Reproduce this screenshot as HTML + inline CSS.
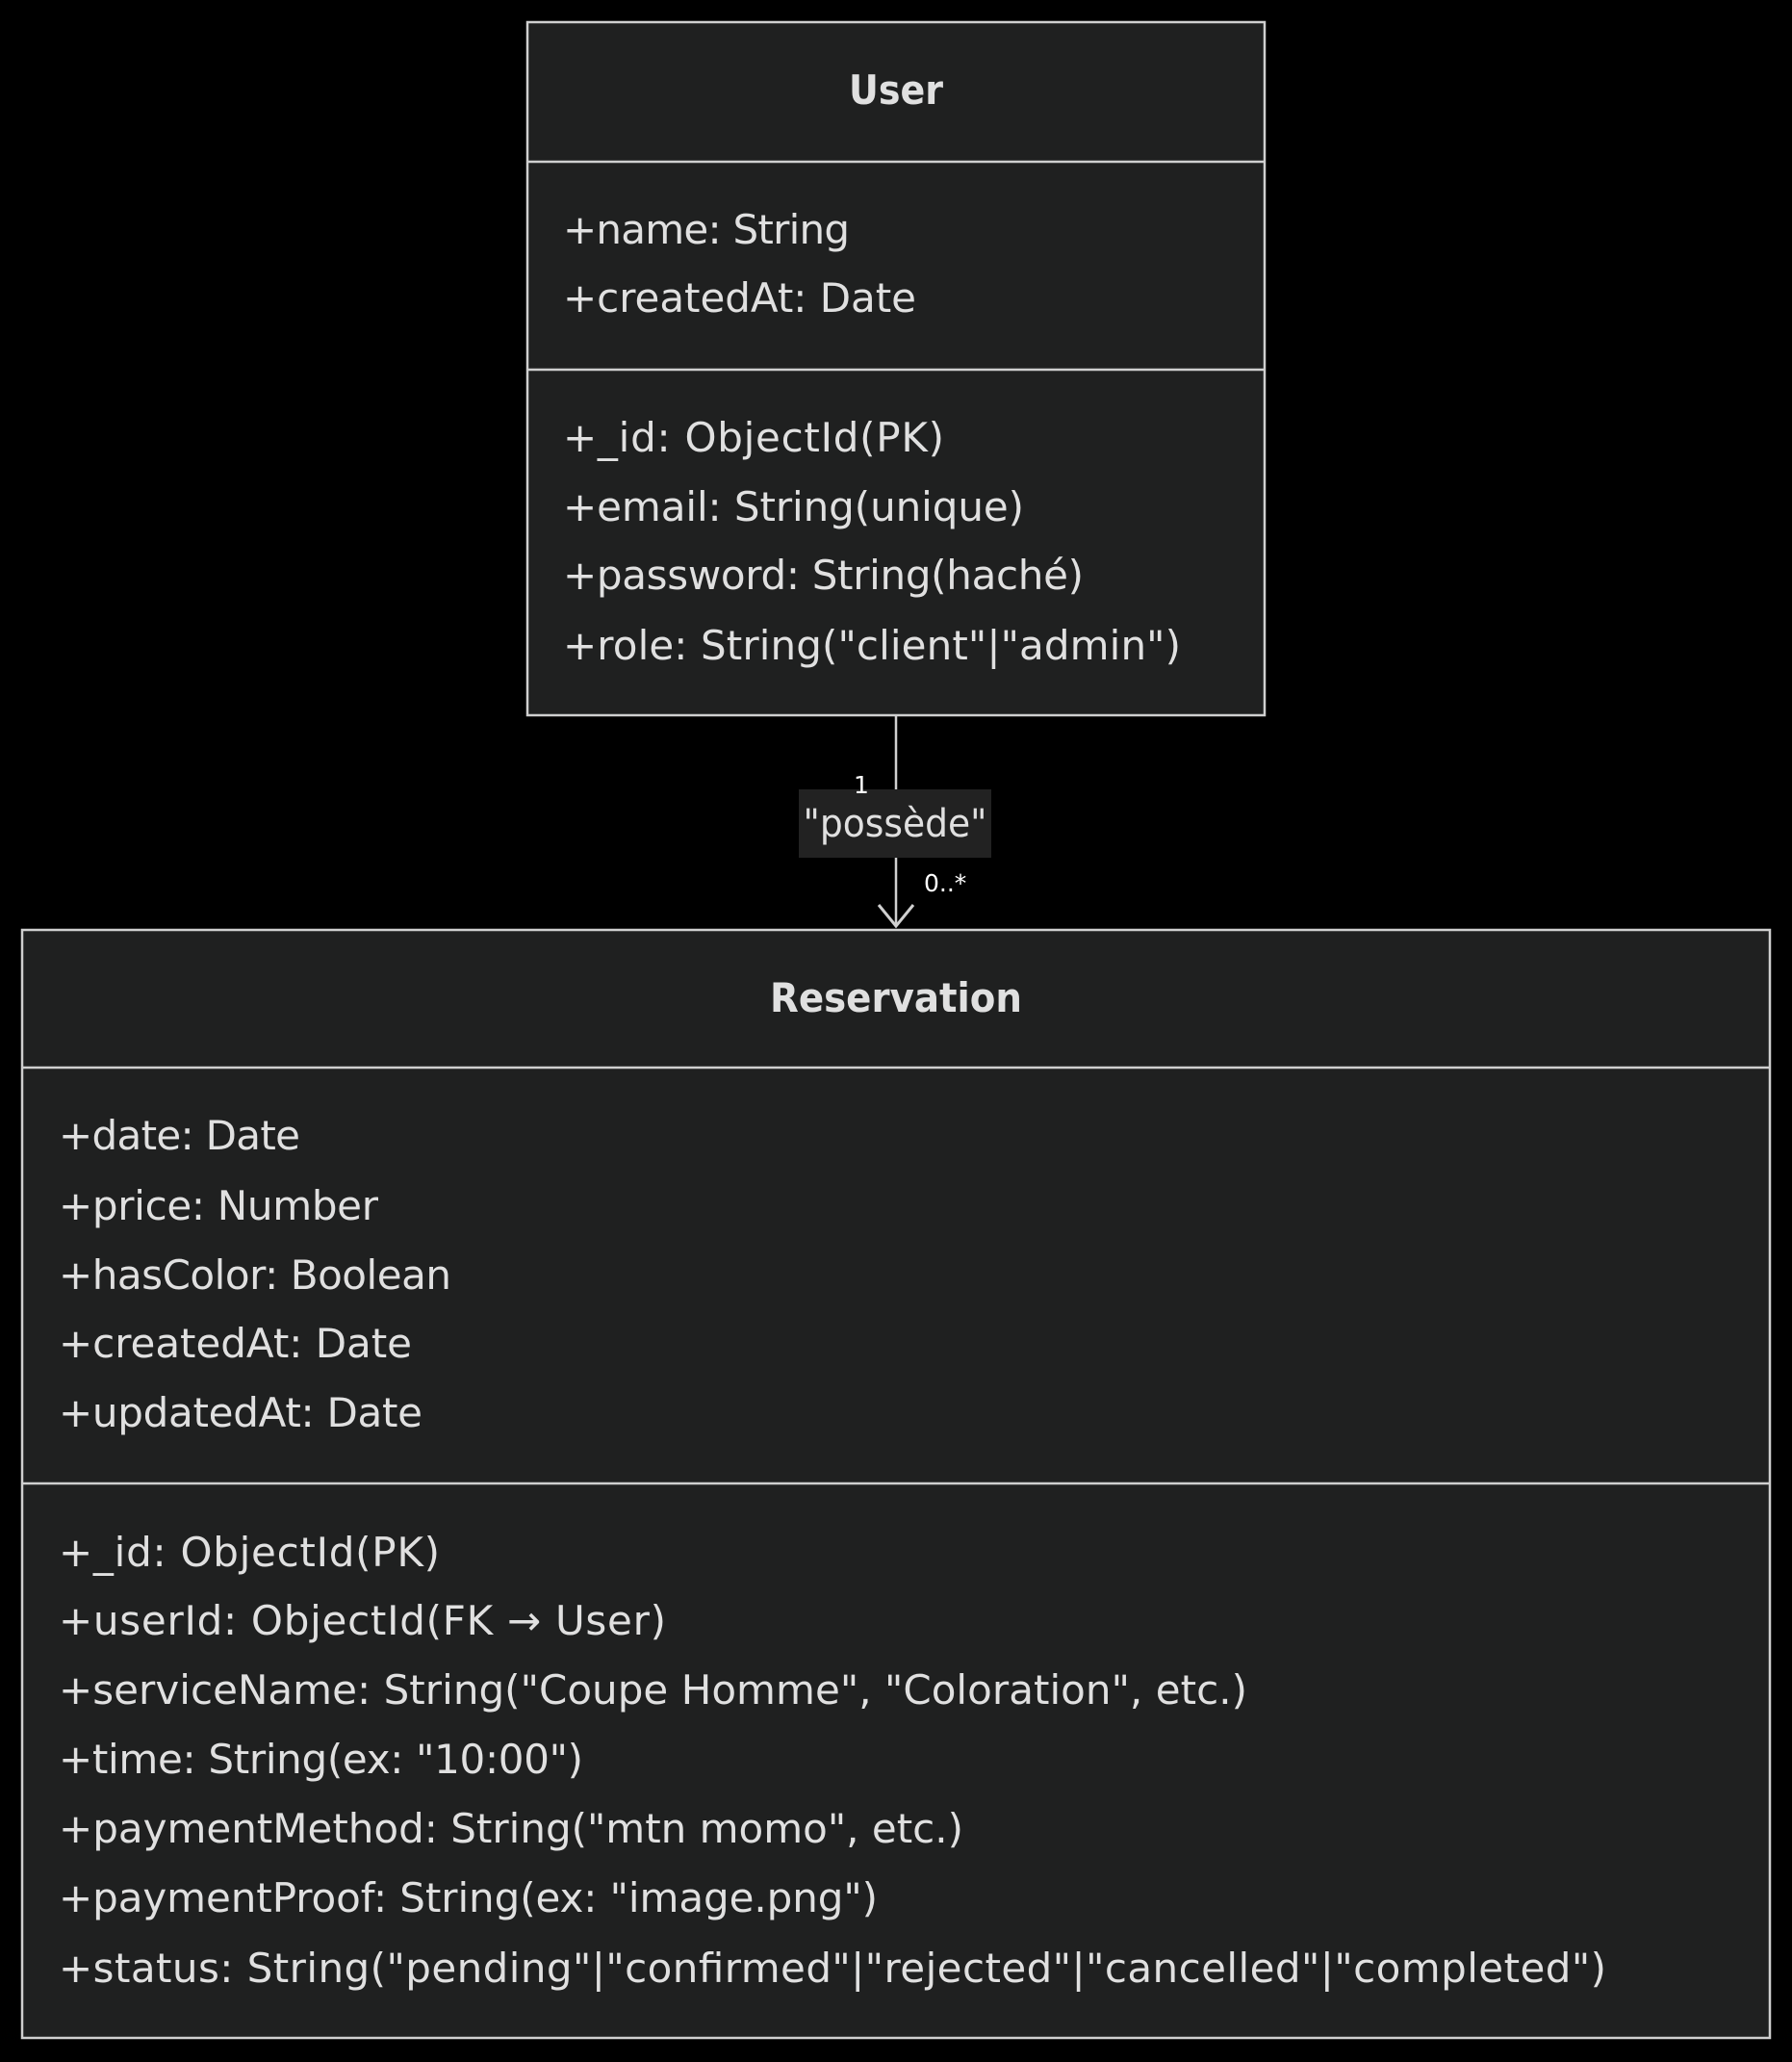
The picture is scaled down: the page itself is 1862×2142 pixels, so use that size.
<!DOCTYPE html>
<html><head><meta charset="utf-8"><style>html,body{margin:0;padding:0;background:#000}svg{display:block}</style></head>
<body>
<svg width="1862" height="2142" viewBox="0 0 1862 2142" xmlns="http://www.w3.org/2000/svg" font-family="'DejaVu Sans','Liberation Sans',sans-serif" fill="#e0e0e0">
<rect x="0" y="0" width="1862" height="2142" fill="#000"/>
<!-- User -->
<rect x="548" y="23" width="766" height="720" fill="#1f2020" stroke="#cfcfcf" stroke-width="2.5"/>
<line x1="548" y1="168" x2="1314" y2="168" stroke="#cfcfcf" stroke-width="2.5"/>
<line x1="548" y1="384" x2="1314" y2="384" stroke="#cfcfcf" stroke-width="2.5"/>
<text x="931" y="108" font-size="42" font-weight="bold" text-anchor="middle" textLength="98" lengthAdjust="spacingAndGlyphs">User</text>
<g font-size="42" lengthAdjust="spacingAndGlyphs">
<text x="585" y="253" textLength="298">+name: String</text>
<text x="585" y="324" textLength="367">+createdAt: Date</text>
<text x="585" y="469" textLength="396">+_id: ObjectId(PK)</text>
<text x="585" y="541" textLength="479">+email: String(unique)</text>
<text x="585" y="612" textLength="541">+password: String(haché)</text>
<text x="585" y="685" textLength="642">+role: String("client"|"admin")</text>
</g>
<!-- connector -->
<line x1="931" y1="743" x2="931" y2="962" stroke="#d0d0d0" stroke-width="2.5"/>
<polyline points="913,940 931,962 949,940" fill="none" stroke="#d0d0d0" stroke-width="3"/>
<rect x="830" y="820" width="200" height="71" fill="#222"/>
<text x="930" y="869" font-size="40" text-anchor="middle" textLength="191" lengthAdjust="spacingAndGlyphs">"possède"</text>
<text x="895" y="824" font-size="25" text-anchor="middle" fill="#fff">1</text>
<text x="960" y="926" font-size="25" fill="#fff">0..*</text>
<!-- Reservation -->
<rect x="23" y="966" width="1816" height="1151" fill="#1f2020" stroke="#cfcfcf" stroke-width="2.5"/>
<line x1="23" y1="1109" x2="1839" y2="1109" stroke="#cfcfcf" stroke-width="2.5"/>
<line x1="23" y1="1541" x2="1839" y2="1541" stroke="#cfcfcf" stroke-width="2.5"/>
<text x="931" y="1051" font-size="42" font-weight="bold" text-anchor="middle" textLength="262" lengthAdjust="spacingAndGlyphs">Reservation</text>
<g font-size="42" lengthAdjust="spacingAndGlyphs">
<text x="61" y="1194" textLength="251">+date: Date</text>
<text x="61" y="1267" textLength="332">+price: Number</text>
<text x="61" y="1339" textLength="408">+hasColor: Boolean</text>
<text x="61" y="1410" textLength="367">+createdAt: Date</text>
<text x="61" y="1482" textLength="378">+updatedAt: Date</text>
<text x="61" y="1627" textLength="396">+_id: ObjectId(PK)</text>
<text x="61" y="1698" textLength="631">+userId: ObjectId(FK → User)</text>
<text x="61" y="1770" textLength="1235">+serviceName: String("Coupe Homme", "Coloration", etc.)</text>
<text x="61" y="1842" textLength="545">+time: String(ex: "10:00")</text>
<text x="61" y="1914" textLength="940">+paymentMethod: String("mtn momo", etc.)</text>
<text x="61" y="1986" textLength="851">+paymentProof: String(ex: "image.png")</text>
<text x="61" y="2059" textLength="1608">+status: String("pending"|"confirmed"|"rejected"|"cancelled"|"completed")</text>
</g>
</svg>
</body></html>
